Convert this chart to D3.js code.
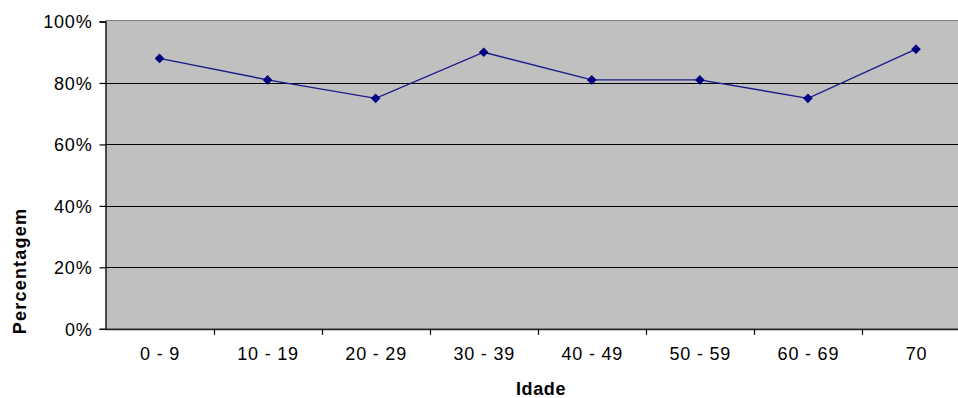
<!DOCTYPE html>
<html>
<head>
<meta charset="utf-8">
<script src="https://cdn.jsdelivr.net/npm/d3@7"></script>
<style>
  html, body { margin: 0; padding: 0; background: #ffffff; }
  svg { display: block; }
  .tick text { font-family: "Liberation Sans", Arial, sans-serif; font-size: 18px; letter-spacing: 0.8px; fill: #000; }
  .axis-title { font-family: "Liberation Sans", Arial, sans-serif; font-weight: bold; font-size: 18px; fill: #000; }
</style>
</head>
<body>
<svg id="chart" width="958" height="398"></svg>
<script>
// Age groups and share of cases per group
const categories = ["0 - 9", "10 - 19", "20 - 29", "30 - 39", "40 - 49", "50 - 59", "60 - 69", "70"];
const percentages = [0.88, 0.81, 0.75, 0.90, 0.81, 0.81, 0.75, 0.91];
const yTicks = [0, 0.2, 0.4, 0.6, 0.8, 1.0];

const svg = d3.select("#chart");
const plotLeft = 105.5, plotRight = 970, plotTop = 21.5, plotBottom = 328.8;

const x = d3.scaleBand().domain(categories).range([plotLeft, plotRight]).padding(0);
const y = d3.scaleLinear().domain([0, 1]).range([plotBottom, plotTop]);

// Plot area background
svg.append("rect")
  .attr("x", plotLeft).attr("y", y(1) - 1)
  .attr("width", plotRight - plotLeft).attr("height", y(0) - y(1) + 1)
  .attr("fill", "#c0c0c0");

// Top border of the plot area
svg.append("line")
  .attr("x1", plotLeft).attr("x2", plotRight)
  .attr("y1", y(1) - 1).attr("y2", y(1) - 1)
  .attr("stroke", "#808080").attr("stroke-width", 1.2);

// Horizontal gridlines
svg.append("g").selectAll("line")
  .data(yTicks.filter(d => d > 0 && d < 1))
  .join("line")
  .attr("x1", plotLeft).attr("x2", plotRight)
  .attr("y1", d => Math.round(y(d)) + 0.5).attr("y2", d => Math.round(y(d)) + 0.5)
  .attr("stroke", "#000").attr("stroke-width", 1.2);

// Y axis
const yAxis = svg.append("g")
  .attr("transform", `translate(${plotLeft},0)`)
  .call(d3.axisLeft(y).tickValues(yTicks).tickFormat(d3.format(".0%")).tickSize(6).tickPadding(8));
yAxis.select(".domain").attr("stroke", "#000").attr("stroke-width", 1.3);
yAxis.selectAll(".tick line").attr("stroke", "#000").attr("stroke-width", 1.2);
yAxis.selectAll(".tick text").attr("dy", "0.36em").attr("dx", "1px");

// X axis with ticks on the category boundaries
const xAxis = svg.append("g")
  .attr("transform", `translate(0,${plotBottom})`)
  .call(d3.axisBottom(x).tickSize(0).tickPadding(18));
xAxis.select(".domain").attr("stroke", "#222").attr("stroke-width", 1.8);
xAxis.selectAll(".tick text").attr("dx", "0.5px");
xAxis.append("g").selectAll("line")
  .data(categories.slice(1))
  .join("line")
  .attr("x1", d => Math.round(x(d)) + 0.5).attr("x2", d => Math.round(x(d)) + 0.5)
  .attr("y1", 0).attr("y2", 6)
  .attr("stroke", "#000").attr("stroke-width", 1.2);

// Series line
const line = d3.line()
  .x((d, i) => x(categories[i]) + x.bandwidth() / 2)
  .y(d => y(d));
svg.append("path")
  .datum(percentages)
  .attr("d", line)
  .attr("fill", "none")
  .attr("stroke", "#1a1a8c")
  .attr("stroke-width", 1.4);

// Diamond markers
svg.append("g").selectAll("path")
  .data(percentages)
  .join("path")
  .attr("d", d3.symbol().type(d3.symbolDiamond2).size(60))
  .attr("transform", (d, i) => `translate(${x(categories[i]) + x.bandwidth() / 2},${y(d)})`)
  .attr("fill", "#000080");

// Axis titles
svg.append("text")
  .attr("class", "axis-title")
  .attr("x", 541).attr("y", 395)
  .attr("text-anchor", "middle")
  .style("letter-spacing", "0.6px")
  .text("Idade");

svg.append("text")
  .attr("class", "axis-title")
  .attr("transform", "translate(26,271) rotate(-90)")
  .attr("text-anchor", "middle")
  .style("letter-spacing", "1.2px")
  .text("Percentagem");
</script>
</body>
</html>
